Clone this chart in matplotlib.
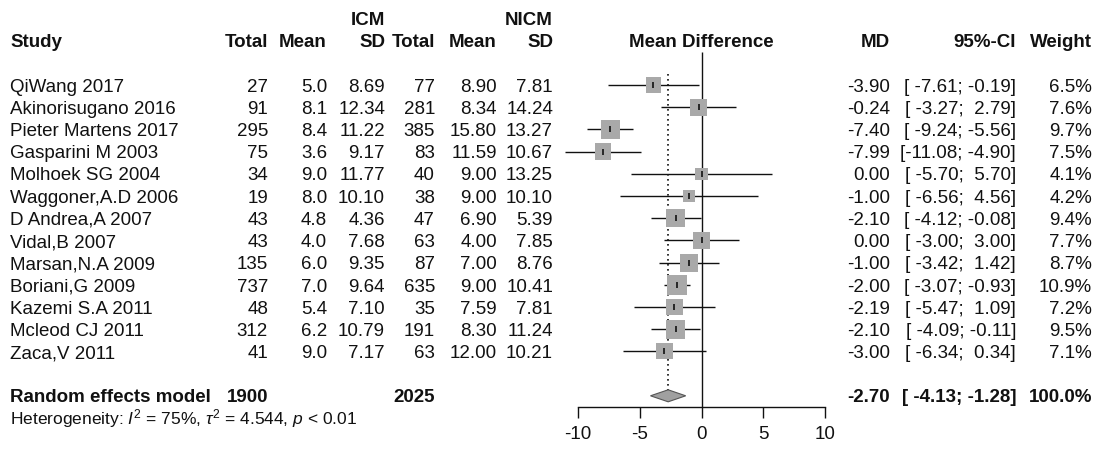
import numpy as np
import matplotlib
matplotlib.use('Agg')
from matplotlib import pyplot as plt
from matplotlib import transforms
from matplotlib.patches import Polygon

studies = ["QiWang 2017", "Akinorisugano 2016", "Pieter Martens 2017", "Gasparini M 2003",
           "Molhoek SG 2004", "Waggoner,A.D 2006", "D Andrea,A 2007", "Vidal,B 2007",
           "Marsan,N.A 2009", "Boriani,G 2009", "Kazemi S.A 2011", "Mcleod CJ 2011", "Zaca,V 2011"]
icm_total = [27, 91, 295, 75, 34, 19, 43, 43, 135, 737, 48, 312, 41]
icm_mean = [5.0, 8.1, 8.4, 3.6, 9.0, 8.0, 4.8, 4.0, 6.0, 7.0, 5.4, 6.2, 9.0]
icm_sd = [8.69, 12.34, 11.22, 9.17, 11.77, 10.10, 4.36, 7.68, 9.35, 9.64, 7.10, 10.79, 7.17]
nicm_total = [77, 281, 385, 83, 40, 38, 47, 63, 87, 635, 35, 191, 63]
nicm_mean = [8.90, 8.34, 15.80, 11.59, 9.00, 9.00, 6.90, 4.00, 7.00, 9.00, 7.59, 8.30, 12.00]
nicm_sd = [7.81, 14.24, 13.27, 10.67, 13.25, 10.10, 5.39, 7.85, 8.76, 10.41, 7.81, 11.24, 10.21]
md = [-3.90, -0.24, -7.40, -7.99, 0.00, -1.00, -2.10, 0.00, -1.00, -2.00, -2.19, -2.10, -3.00]
ci_low = [-7.61, -3.27, -9.24, -11.08, -5.70, -6.56, -4.12, -3.00, -3.42, -3.07, -5.47, -4.09, -6.34]
ci_high = [-0.19, 2.79, -5.56, -4.90, 5.70, 4.56, -0.08, 3.00, 1.42, -0.93, 1.09, -0.11, 0.34]
weight = [6.5, 7.6, 9.7, 7.5, 4.1, 4.2, 9.4, 7.7, 8.7, 10.9, 7.2, 9.5, 7.1]

pooled_icm_total = 1900
pooled_nicm_total = 2025
pooled_md = -2.70
pooled_low = -4.13
pooled_high = -1.28
pooled_weight = 100.0
ticks = [-10, -5, 0, 5, 10]

plt.rcParams['font.family'] = ['Liberation Sans', 'DejaVu Sans']
plt.rcParams['mathtext.fontset'] = 'custom'
plt.rcParams['mathtext.rm'] = 'Liberation Sans'
plt.rcParams['mathtext.it'] = 'Liberation Sans:italic'
plt.rcParams['mathtext.bf'] = 'Liberation Sans:bold'

W, H = 1094, 449
FS = 13.5
TXT = '#111111'

fig = plt.figure(figsize=(W / 100, H / 100), dpi=100)
ax = fig.add_axes([0, 0, 1, 1])

# x in MD units, y in rows (pixel layout of the original)
px_unit = (825 - 578) / 20
x_zero = 701.5
ax.set_xlim(-x_zero / px_unit, (W - x_zero) / px_unit)
row_h = 22.2
y_first = 85
ax.set_ylim((H - y_first) / row_h, -y_first / row_h)

col = transforms.blended_transform_factory(fig.transFigure, ax.transData)
base = 6.7 / row_h


def put(px, r, s, ha='right', bold=False, size=FS):
    ax.text(px / W, r + base, s, transform=col, ha=ha, va='baseline', fontsize=size,
            fontweight='bold' if bold else 'normal', color=TXT)


# header
put(385, -3, "ICM", bold=True)
put(553, -3, "NICM", bold=True)
put(10, -2, "Study", ha='left', bold=True)
for x, s in [(268, "Total"), (327, "Mean"), (385, "SD"), (435, "Total"), (497, "Mean"), (553, "SD"),
             (890, "MD"), (1016, "95%-CI"), (1092, "Weight")]:
    put(x, -2, s, bold=True)
ax.text(0, -2 + base, "Mean Difference", ha='center', va='baseline', fontsize=FS,
        fontweight='bold', color=TXT)

rows = np.arange(len(studies))
for i in rows:
    put(10, i, studies[i], ha='left')
    put(268, i, f"{icm_total[i]}")
    put(327, i, f"{icm_mean[i]:.1f}")
    put(385, i, f"{icm_sd[i]:.2f}")
    put(435, i, f"{nicm_total[i]}")
    put(497, i, f"{nicm_mean[i]:.2f}")
    put(553, i, f"{nicm_sd[i]:.2f}")
    put(890, i, f"{md[i]:.2f}")
    put(1016, i, f"[{ci_low[i]:6.2f};{ci_high[i]:6.2f}]")
    put(1092, i, f"{weight[i]:.1f}%")

r_pool = len(studies) + 1
put(10, r_pool, "Random effects model", ha='left', bold=True)
put(268, r_pool, f"{pooled_icm_total}", bold=True)
put(435, r_pool, f"{pooled_nicm_total}", bold=True)
put(890, r_pool, f"{pooled_md:.2f}", bold=True)
put(1016, r_pool, f"[{pooled_low:6.2f};{pooled_high:6.2f}]", bold=True)
put(1092, r_pool, f"{pooled_weight:.1f}%", bold=True)
put(10, r_pool + 1, r"Heterogeneity: $I^2$ = 75%, $\tau^2$ = 4.544, $p$ < 0.01", ha='left', size=12.5)

# forest
side_pt = 6.06 * np.sqrt(weight) * 0.72
ax.hlines(rows, ci_low, ci_high, color='#111111', lw=1.0, zorder=2)
ax.scatter(md, rows, s=side_pt ** 2, marker='s', color='#a9a9a9', linewidths=0, zorder=3)
ax.scatter(md, rows, s=25, marker='|', color='#111111', linewidths=1.2, zorder=4)

axis_row = (407 - y_first) / row_h
dh = 6 / row_h
ax.vlines(0, -1.49, axis_row, color='#111111', lw=1.0, zorder=1)
ax.vlines(pooled_md, -0.5, r_pool - dh, color='#111111', lw=1.2, linestyles=(0, (1, 2)), zorder=1)
ax.add_patch(Polygon([(pooled_low, r_pool), (pooled_md, r_pool - dh), (pooled_high, r_pool),
                      (pooled_md, r_pool + dh)], closed=True, facecolor='#a0a0a0',
                     edgecolor='#555555', lw=0.8, zorder=3))

for s in ['left', 'right', 'top']:
    ax.spines[s].set_visible(False)
ax.spines['bottom'].set_position(('data', axis_row))
ax.spines['bottom'].set_bounds(-10, 10)
ax.spines['bottom'].set_linewidth(1.0)
ax.spines['bottom'].set_color('#111111')
ax.set_yticks([])
ax.set_xticks(ticks)
ax.set_xticklabels([str(t) for t in ticks])
ax.tick_params(axis='x', direction='out', length=7.9, width=1.0, pad=6, labelsize=FS,
               colors='#111111')

fig.savefig('out.png', dpi=100)
